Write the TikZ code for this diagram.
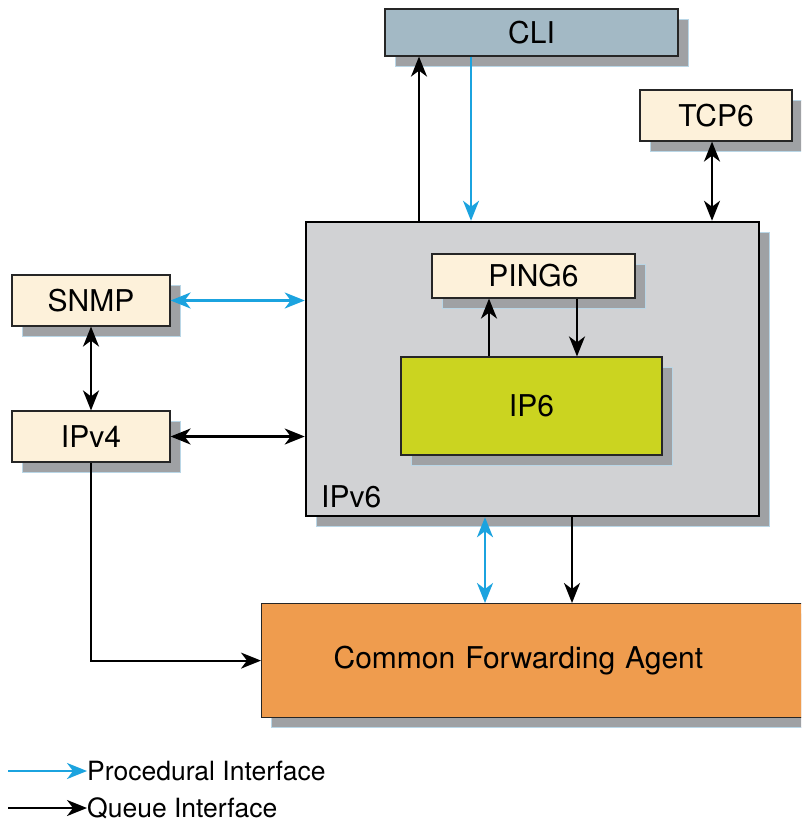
\documentclass[tikz,border=0pt]{standalone}
\usepackage{fontspec}
\setmainfont{TeX Gyre Heros}
\usetikzlibrary{arrows.meta,shadows}
\definecolor{cliblue}{HTML}{A3B9C5}
\definecolor{cream}{HTML}{FDF1DA}
\definecolor{panel}{HTML}{D1D2D4}
\definecolor{lime}{HTML}{CBD420}
\definecolor{orng}{HTML}{EF9C4E}
\definecolor{shade}{HTML}{9FA1A4}
\definecolor{shedge}{HTML}{B9D6E6}
\definecolor{procblue}{HTML}{1BA3DF}
\tikzset{
  box/.style={draw=black!85, line width=1.2pt, inner sep=0pt, font=\fontsize{30}{34}\selectfont,
    general shadow={shadow xshift=10pt, shadow yshift=-10pt, fill=shade, draw=shedge, line width=1pt}},
  tip/.tip={Stealth[length=20pt,width=16pt,inset=6pt]},
  qarr/.style={line width=2.2pt, black, -tip},
  qboth/.style={qarr, tip-tip},
  parr/.style={line width=2.2pt, procblue, -tip},
  pboth/.style={parr, tip-tip},
  legtxt/.style={anchor=west, inner sep=0pt, font=\fontsize{26.5}{30}\selectfont}
}
\begin{document}
\begin{tikzpicture}[x=1pt,y=-1pt]
\useasboundingbox (0,0) rectangle (801,825);
\clip (0,0) rectangle (801,825);
\fill[white] (0,0) rectangle (801,825);
% boxes
\node[box, fill=cliblue, minimum width=293pt, minimum height=47pt] (CLI) at (531.5,32.5) {CLI};
\node[box, fill=cream, minimum width=152pt, minimum height=51pt] (TCP6) at (716,115.5) {TCP6};
\node[box, fill=panel, draw=black, line width=2.5pt, minimum width=453pt, minimum height=294pt] (IPv6) at (532.5,369) {};
\node[anchor=base west, inner sep=0pt, font=\fontsize{30}{34}\selectfont] (IPv6lbl) at (321,507) {IPv6};
\node[box, fill=cream, minimum width=203pt, minimum height=44pt] (PING6) at (533.5,276) {PING6};
\node[box, fill=lime, minimum width=261pt, minimum height=98pt] (IP6) at (531.5,406) {IP6};
\node[box, fill=cream, minimum width=158pt, minimum height=51pt] (SNMP) at (91,300.5) {SNMP};
\node[box, fill=cream, minimum width=158pt, minimum height=51pt] (IPv4) at (91,436.5) {IPv4};
\node[box, fill=orng, anchor=north west, text width=425pt, align=left, inner xsep=72pt, minimum height=114pt] (CFA) at (261,603) {Common Forwarding Agent};
% connectors
\draw[qarr] (419,0 |- IPv6.north) -- (419,0 |- CLI.south);
\draw[parr] (471,0 |- CLI.south) -- (471,0 |- IPv6.north);
\draw[qboth] (712,0 |- TCP6.south) -- (712,0 |- IPv6.north);
\draw[pboth] (SNMP.east) -- (SNMP.east -| IPv6.west);
\draw[qboth] (SNMP.south) -- (IPv4.north);
\draw[qboth] (IPv4.east) -- (IPv4.east -| IPv6.west);
\draw[qarr] (489,0 |- IP6.north) -- (489,0 |- PING6.south);
\draw[qarr] (577,0 |- PING6.south) -- (577,0 |- IP6.north);
\draw[pboth] (485,0 |- IPv6.south) -- (485,0 |- CFA.north);
\draw[qarr] (572,0 |- IPv6.south) -- (572,0 |- CFA.north);
\draw[qarr] (IPv4.south) |- (CFA.west);
% legend
\node[legtxt] (L1) at (87,771) {Procedural Interface};
\node[legtxt] (L2) at (87,808) {Queue Interface};
\coordinate (L1s) at (8,771);
\coordinate (L2s) at (8,808);
\draw[parr] (L1s) -- (L1.west);
\draw[qarr] (L2s) -- (L2.west);
\end{tikzpicture}
\end{document}
